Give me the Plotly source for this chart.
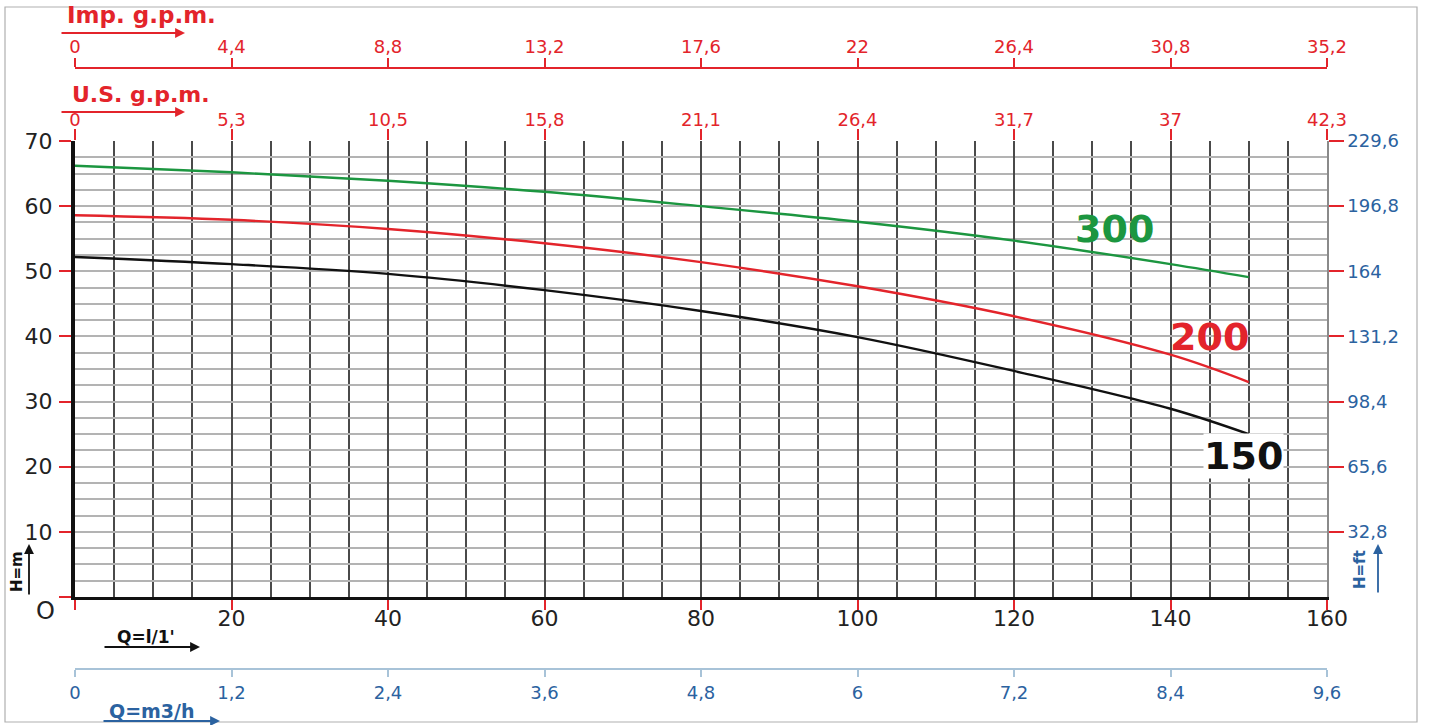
import plotly.graph_objects as go

# ---------------- data ----------------
q_lmin = [0, 20, 40, 60, 80, 100, 120, 140, 150]
h_150 = [52.2, 51.1, 49.6, 47.1, 43.9, 39.9, 34.7, 28.9, 25.0]
h_200 = [58.6, 57.9, 56.5, 54.3, 51.4, 47.7, 43.1, 37.2, 33.0]
h_300 = [66.2, 65.2, 63.9, 62.2, 60.0, 57.6, 54.7, 51.1, 49.1]

q_ticks = [0, 20, 40, 60, 80, 100, 120, 140, 160]
q_ticktext = ["", "20", "40", "60", "80", "100", "120", "140", "160"]
imp_gpm_text = ["0", "4,4", "8,8", "13,2", "17,6", "22", "26,4", "30,8", "35,2"]
us_gpm_text = ["0", "5,3", "10,5", "15,8", "21,1", "26,4", "31,7", "37", "42,3"]
m3h_text = ["0", "1,2", "2,4", "3,6", "4,8", "6", "7,2", "8,4", "9,6"]
h_ticks = [0, 10, 20, 30, 40, 50, 60, 70]
h_ticktext = ["", "10", "20", "30", "40", "50", "60", "70"]
ft_ticks = [10, 20, 30, 40, 50, 60, 70]
ft_ticktext = ["32,8", "65,6", "98,4", "131,2", "164", "196,8", "229,6"]

# ---------------- styles ----------------
W, H = 1429, 725
RED = "#e3242b"
BLUE = "#2b62a0"
LBLUE = "#a8c3d8"
GREEN = "#1c9640"
FONT = "DejaVu Sans"

def px_x(p):
    return p / W

def px_y(p):
    return 1 - p / H

xdom = [px_x(75), px_x(1327)]
ydom = [px_y(597), px_y(141)]

fig = go.Figure()

for h, col in [(h_300, GREEN), (h_200, RED), (h_150, "#111111")]:
    fig.add_trace(go.Scatter(x=q_lmin, y=h, mode="lines", line=dict(color=col, width=2.4, shape="spline"),
                             hoverinfo="skip", showlegend=False))

# dummy traces to make the extra axes exist
for xa, ya in [("x2", "y"), ("x3", "y"), ("x4", "y"), ("x", "y2")]:
    fig.add_trace(go.Scatter(x=[0], y=[0], xaxis=xa, yaxis=ya, mode="markers", marker=dict(opacity=0),
                             showlegend=False, hoverinfo="skip"))

common = dict(range=[0, 160], domain=xdom, automargin=False, zeroline=False, fixedrange=True)

fig.update_layout(
    width=W, height=H,
    margin=dict(l=0, r=0, t=0, b=0),
    paper_bgcolor="white", plot_bgcolor="white",
    showlegend=False,
    font=dict(family=FONT),
    xaxis=dict(**common, tickmode="array", tickvals=q_ticks, ticktext=q_ticktext,
               ticks="outside", ticklen=10, tickwidth=2, tickcolor=RED, ticklabelstandoff=-10,
               tickfont=dict(size=22, color="#222", family=FONT),
               showline=True, linecolor="#111", linewidth=2.5,
               showgrid=True, gridcolor="#4a4a4a", gridwidth=1.8,
               minor=dict(tickmode="array", tickvals=list(range(0, 161, 5)), showgrid=True,
                          gridcolor="#4a4a4a", gridwidth=1.8, ticks=""),
               anchor="y", side="bottom"),
    xaxis2=dict(**common, overlaying="x", anchor="y", side="top",
                tickmode="array", tickvals=q_ticks, ticktext=us_gpm_text,
                ticks="outside", ticklen=11, tickwidth=2, tickcolor=RED, ticklabelstandoff=-4,
                tickfont=dict(size=18, color=RED, family=FONT),
                showline=False, showgrid=False),
    xaxis3=dict(**common, overlaying="x", anchor="free", position=px_y(68), side="top",
                tickmode="array", tickvals=q_ticks, ticktext=imp_gpm_text,
                ticks="outside", ticklen=9, tickwidth=2, tickcolor=RED, ticklabelstandoff=-2,
                tickfont=dict(size=18, color=RED, family=FONT),
                showline=True, linecolor=RED, linewidth=2, showgrid=False),
    xaxis4=dict(**common, overlaying="x", anchor="free", position=px_y(669), side="bottom",
                tickmode="array", tickvals=q_ticks, ticktext=m3h_text,
                ticks="outside", ticklen=7, tickwidth=2, tickcolor=LBLUE,
                tickfont=dict(size=18, color=BLUE, family=FONT),
                showline=True, linecolor=LBLUE, linewidth=2, showgrid=False),
    yaxis=dict(range=[0, 70], domain=ydom, automargin=False, zeroline=False, fixedrange=True,
               tickmode="array", tickvals=h_ticks, ticktext=h_ticktext,
               ticks="outside", ticklen=12, tickwidth=2, tickcolor=RED, ticklabelstandoff=2,
               tickfont=dict(size=22, color="#222", family=FONT),
               showline=True, linecolor="#111", linewidth=4,
               showgrid=True, gridcolor="#b3b3b3", gridwidth=2.2,
               minor=dict(tickmode="array", tickvals=[i * 2.5 for i in range(29)], showgrid=True,
                          gridcolor="#b3b3b3", gridwidth=2.2, ticks=""),
               anchor="x", side="left"),
    yaxis2=dict(range=[0, 70], domain=ydom, automargin=False, zeroline=False, fixedrange=True,
                overlaying="y", anchor="x", side="right",
                tickmode="array", tickvals=ft_ticks, ticktext=ft_ticktext,
                ticks="outside", ticklen=15, tickwidth=2, tickcolor=RED,
                tickfont=dict(size=18, color=BLUE, family=FONT),
                showline=True, linecolor="#8a8a8a", linewidth=1.5, showgrid=False),
)

# outer frame
fig.add_shape(type="rect", xref="paper", yref="paper", x0=px_x(5), x1=px_x(1417), y0=px_y(722), y1=px_y(7),
              line=dict(color="#b0b0b0", width=1.2), layer="below")

ann = []
# curve labels
ann.append(dict(x=132.9, y=56.5, xref="x", yref="y", text="<b>300</b>", showarrow=False,
                font=dict(size=38, color=GREEN, family=FONT)))
ann.append(dict(x=145.0, y=39.9, xref="x", yref="y", text="<b>200</b>", showarrow=False,
                font=dict(size=38, color=RED, family=FONT)))
ann.append(dict(x=149.3, y=21.6, xref="x", yref="y", text="<b>150</b>", showarrow=False, bgcolor="white",
                borderpad=0, font=dict(size=38, color="#111", family=FONT)))

def ptext(x, y, text, color, size, angle=0):
    return dict(x=px_x(x), y=px_y(y), xref="paper", yref="paper", text=text, showarrow=False,
                xanchor="center", yanchor="middle",
                textangle=angle, font=dict(size=size, color=color, family=FONT))

def parrow(x0, y0, x1, y1, color):
    return dict(x=px_x(x1), y=px_y(y1), xref="paper", yref="paper", ax=x0 - x1, ay=y0 - y1,
                axref="pixel", ayref="pixel", text="", showarrow=True, arrowhead=2, arrowsize=1.1,
                arrowwidth=1.8, arrowcolor=color)

ann.append(ptext(141, 15, "<b>Imp. g.p.m.</b>", RED, 23))
ann.append(parrow(60, 33, 185, 33, RED))
ann.append(ptext(141, 94, "<b>U.S. g.p.m.</b>", RED, 22))
ann.append(parrow(60, 112, 185, 112, RED))
ann.append(ptext(45, 611, "O", "#222", 24))
ann.append(ptext(17, 572, "<b>H=m</b>", "#111", 15, -90))
ann.append(parrow(29, 596, 29, 544, "#111"))
ann.append(ptext(146, 637, "<b>Q=l/1'</b>", "#111", 17))
ann.append(parrow(103, 647, 200, 647, "#111"))
ann.append(ptext(152, 711, "<b>Q=m3/h</b>", BLUE, 19))
ann.append(parrow(102, 721, 220, 721, BLUE))
ann.append(ptext(1360, 570, "<b>H=ft</b>", BLUE, 15, -90))
ann.append(parrow(1378, 594, 1378, 544, BLUE))

fig.update_layout(annotations=ann)

fig.write_html("out.html", config={"displayModeBar": False},
               post_script="document.body.style.margin='0';document.body.style.overflow='hidden';")
